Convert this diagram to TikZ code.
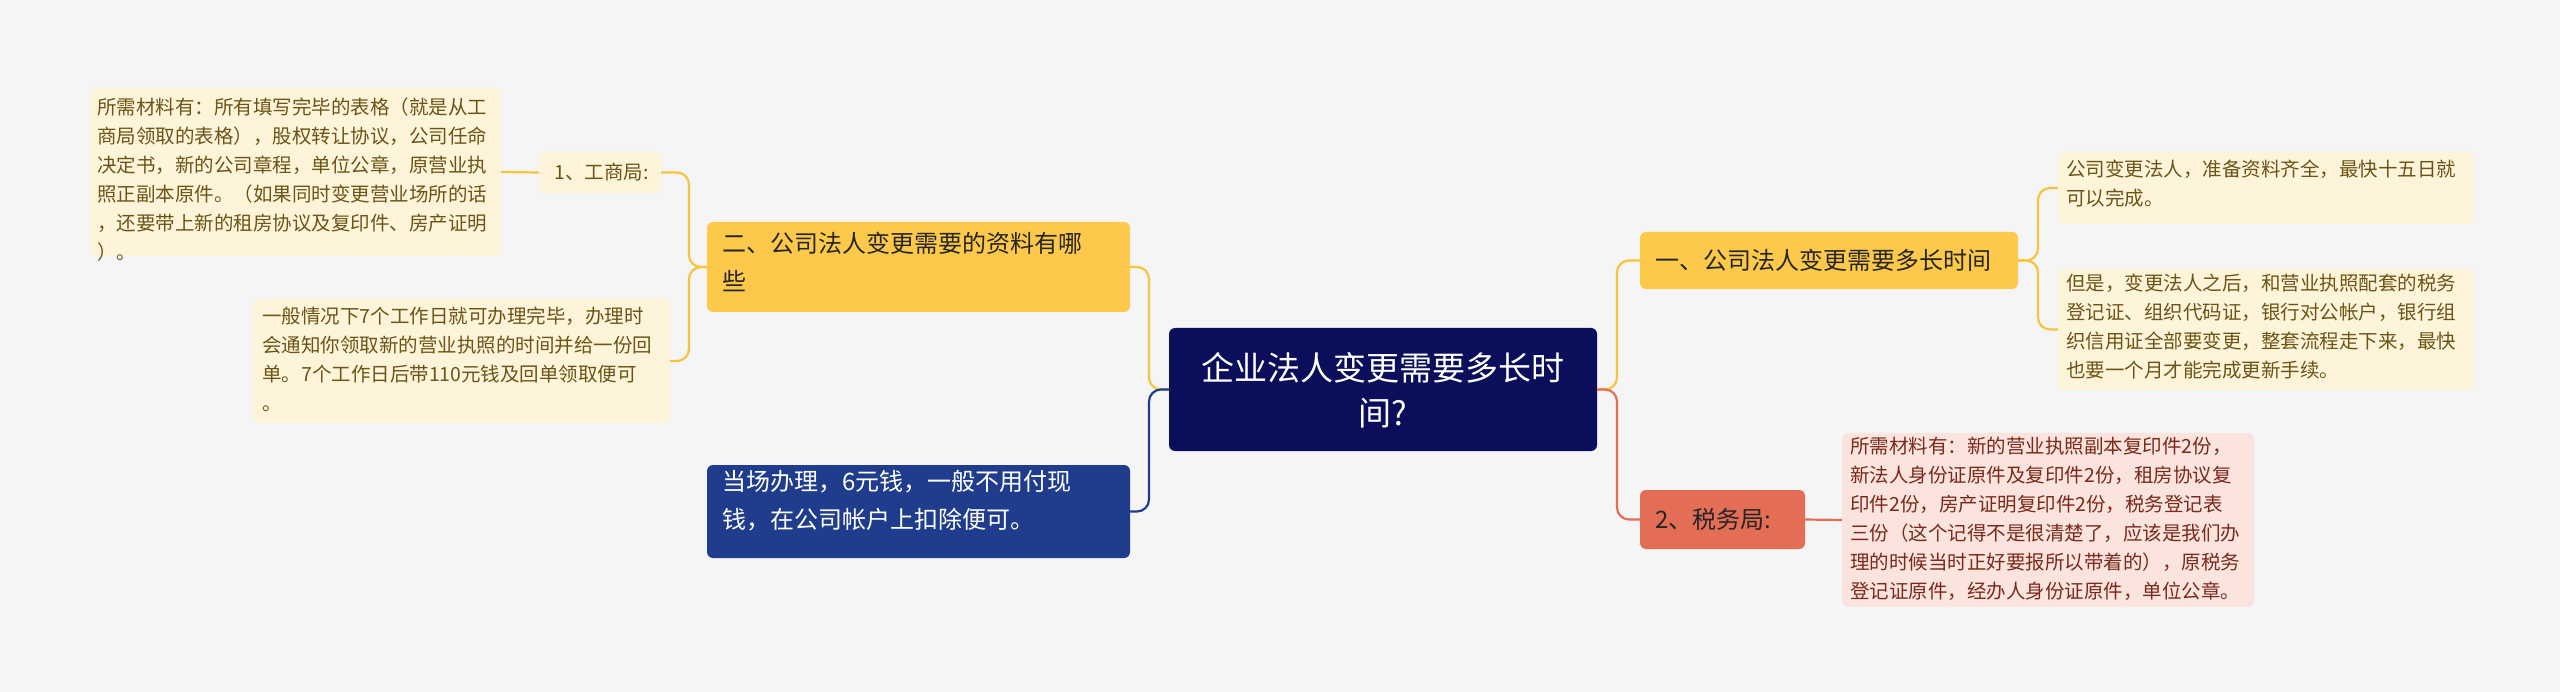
\documentclass[tikz,border=0pt]{standalone}
\usepackage{fontspec}
\setmainfont{Noto Sans CJK SC}
\definecolor{bg}{HTML}{F5F5F5}
\definecolor{navy}{HTML}{0B0E5A}
\definecolor{blu}{HTML}{1F3D8C}
\definecolor{ylw}{HTML}{FDC94A}
\definecolor{ylwl}{HTML}{F6C440}
\definecolor{cream}{HTML}{FEF4DA}
\definecolor{brn}{HTML}{6B5416}
\definecolor{red}{HTML}{E46D56}
\definecolor{pink}{HTML}{FBE3DE}
\definecolor{dred}{HTML}{7A2A1A}
\tikzset{
 box/.style={rounded corners=5pt, anchor=north west, align=left, inner sep=0pt},
 small/.style={font=\fontsize{19.5}{29}\selectfont},
 mid/.style={font=\fontsize{24}{38}\selectfont},
 link/.style={line width=2.2pt, rounded corners=12pt},
}
\begin{document}
\begin{tikzpicture}[x=1pt,y=-1pt]
\fill[bg] (0,0) rectangle (2560,692);
\useasboundingbox (0,0) rectangle (2560,692);
% boxes as rectangles with text
\newcommand{\bx}[7]{% name, x1,y1,x2,y2, fill, style
 \fill[#6, rounded corners=6pt] (#2,#3) rectangle (#4,#5);
 \coordinate (#1-w) at (#2,{(#3+#5)/2});
 \coordinate (#1-e) at (#4,{(#3+#5)/2});
}
\bx{c}{1169}{328}{1597}{451}{navy}{}
\node[align=center, text=white, font=\fontsize{33}{45}\selectfont] (ct) at (1383,390) {企业法人变更需要多长时\\间?};
\bx{y2}{707}{222}{1130}{312}{ylw}{}
\node[box, mid, text=black!85] (y2t) at (722,232) {二、公司法人变更需要的资料有哪\\些};
\bx{gs}{539}{152}{661}{193}{cream}{}
\node[small, text=brn, anchor=west] (gst) at (551,172) {1、工商局:};
\bx{t1}{90}{88}{501}{256}{cream}{}
\node[box, small, text=brn] (t1t) at (97,98) {所需材料有：所有填写完毕的表格（就是从工\\商局领取的表格），股权转让协议，公司任命\\决定书，新的公司章程，单位公章，原营业执\\照正副本原件。（如果同时变更营业场所的话\\，还要带上新的租房协议及复印件、房产证明\\）。};
\bx{t2}{253}{299}{670}{423}{cream}{}
\node[box, small, text=brn] (t2t) at (262,307) {一般情况下7个工作日就可办理完毕，办理时\\会通知你领取新的营业执照的时间并给一份回\\单。7个工作日后带110元钱及回单领取便可\\。};
\bx{bl}{707}{465}{1130}{558}{blu}{}
\node[box, mid, text=white] (blt) at (722,470) {当场办理，6元钱，一般不用付现\\钱，在公司帐户上扣除便可。};
\bx{y1}{1640}{232}{2018}{289}{ylw}{}
\node[mid, text=black!85, anchor=west] (y1t) at (1652,260) {一、公司法人变更需要多长时间};
\bx{r1}{2058}{152}{2474}{224}{cream}{}
\node[box, small, text=brn] (r1t) at (2066,160) {公司变更法人，准备资料齐全，最快十五日就\\可以完成。};
\bx{r2}{2058}{269}{2474}{390}{cream}{}
\node[box, small, text=brn] (r2t) at (2066,274) {但是，变更法人之后，和营业执照配套的税务\\登记证、组织代码证，银行对公帐户，银行组\\织信用证全部要变更，整套流程走下来，最快\\也要一个月才能完成更新手续。};
\bx{sw}{1640}{490}{1805}{549}{red}{}
\node[mid, text=black!85, anchor=west] (swt) at (1652,519) {2、税务局:};
\bx{pk}{1842}{433}{2254}{607}{pink}{}
\node[box, small, text=dred] (pkt) at (1850,437) {所需材料有：新的营业执照副本复印件2份，\\新法人身份证原件及复印件2份，租房协议复\\印件2份，房产证明复印件2份，税务登记表\\三份（这个记得不是很清楚了，应该是我们办\\理的时候当时正好要报所以带着的），原税务\\登记证原件，经办人身份证原件，单位公章。};
% connectors
\draw[link, ylwl] (c-w) -- ++(-20,0) |- (y2-e);
\draw[link, blu] (c-w) -- ++(-20,0) |- (bl-e);
\draw[link, ylwl] (y2-w) -- ++(-18,0) |- (gs-e);
\draw[link, ylwl] (y2-w) -- ++(-18,0) |- (t2-e);
\draw[link, ylwl] (gs-w) -- (t1-e);
\draw[link, ylwl] (c-e) -- ++(20,0) |- (y1-w);
\draw[link, red] (c-e) -- ++(20,0) |- (sw-w);
\draw[link, ylwl] (y1-e) -- ++(20,0) |- (r1-w);
\draw[link, ylwl] (y1-e) -- ++(20,0) |- (r2-w);
\draw[link, red] (sw-e) -- (pk-w);
\end{tikzpicture}
\end{document}
